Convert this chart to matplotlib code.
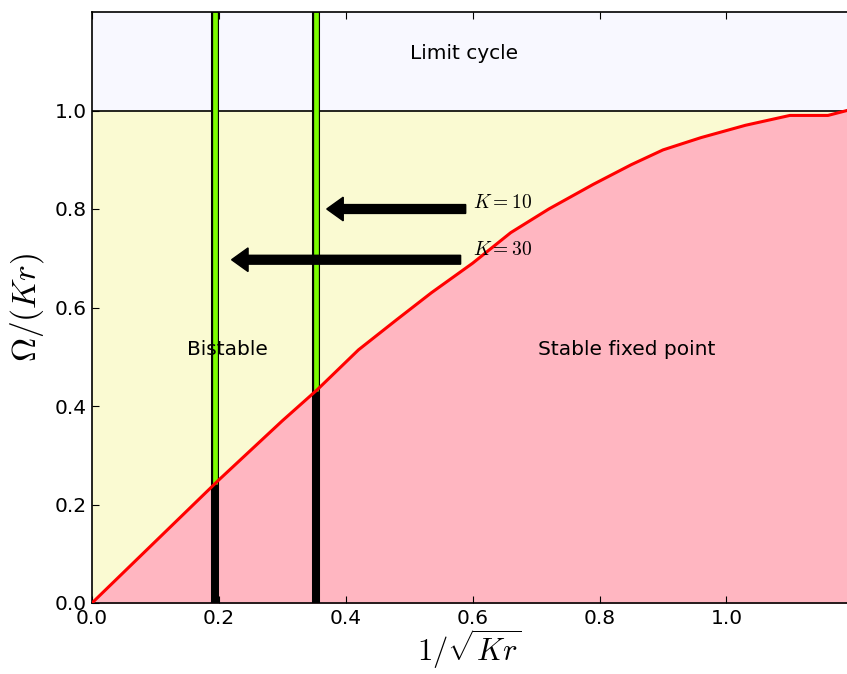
import numpy as np
import matplotlib
matplotlib.use("Agg")
import matplotlib.pyplot as plt

plt.rcParams['mathtext.fontset'] = 'cm'

# Boundary between bistable and stable fixed point regions
boundary_x = [0, 0.04, 0.08, 0.12, 0.16, 0.20, 0.25, 0.30, 0.355, 0.42, 0.48, 0.535,
              0.60, 0.66, 0.72, 0.79, 0.85, 0.90, 0.96, 1.03, 1.10, 1.16, 1.19]
boundary_y = [0, 0.05, 0.10, 0.15, 0.20, 0.25, 0.31, 0.37, 0.433, 0.514, 0.575, 0.63,
              0.69, 0.752, 0.80, 0.85, 0.89, 0.92, 0.945, 0.97, 0.99, 0.99, 1.0]

# Vertical lines for K values
k_values = [10, 30]
k_x = [0.353, 0.194]
k_labels = [r'$K=10$', r'$K=30$']
k_label_y = [0.813, 0.717]
arrow_y = [0.80, 0.697]
arrow_tail_x = [0.589, 0.581]
arrow_head_x = [0.37, 0.22]

limit_y = 1.0
xmax, ymax = 1.19, 1.2

fig = plt.figure(figsize=(8.47, 6.74), dpi=100)
ax = fig.add_axes([92/847, 71/674, 1 - 92/847, (603-12)/674])

bx = np.array(boundary_x)
by = np.array(boundary_y)

ax.fill_between([0, xmax], limit_y, ymax, color='#F8F8FF', zorder=0)
ax.fill_between(bx, by, limit_y, color='#FAFAD2', zorder=0)
ax.fill_between(bx, 0, by, color='#FFB6C1', zorder=0)
ax.axhline(limit_y, color='black', lw=1.2, zorder=1)
ax.plot(bx, by, color='red', lw=2.2, zorder=3)

for xv in k_x:
    yc = np.interp(xv, bx, by)
    ax.plot([xv, xv], [yc, ymax], color='black', lw=5.8, zorder=2, solid_capstyle='butt')
    ax.plot([xv, xv], [yc, ymax], color='#7CFC00', lw=3.4, zorder=2.1, solid_capstyle='butt')
    ax.plot([xv, xv], [0, yc], color='black', lw=5.8, zorder=2, solid_capstyle='butt')

for ya, xt, xh in zip(arrow_y, arrow_tail_x, arrow_head_x):
    ax.arrow(xt, ya, xh - xt, 0, width=0.018, head_width=0.048, head_length=0.026,
             length_includes_head=True, color='black', zorder=4)
for lab, ly in zip(k_labels, k_label_y):
    ax.text(0.60, ly, lab, fontsize=14, va='center', ha='left', zorder=5)

ax.text(0.587, 1.116, 'Limit cycle', fontsize=14.5, ha='center', va='center')
ax.text(0.213, 0.514, 'Bistable', fontsize=14.5, ha='center', va='center')
ax.text(0.843, 0.514, 'Stable fixed point', fontsize=14.5, ha='center', va='center')

ax.set_xlim(0, xmax)
ax.set_ylim(0, ymax)
ax.set_xticks([0, 0.2, 0.4, 0.6, 0.8, 1.0])
ax.set_yticks([0, 0.2, 0.4, 0.6, 0.8, 1.0])
ax.tick_params(direction='in', top=True, right=False, labelsize=14.5, length=5, pad=4)
ax.spines['right'].set_visible(False)
for s in ['left', 'bottom', 'top']:
    ax.spines[s].set_linewidth(1.2)

ax.set_xlabel(r'$1/\sqrt{Kr}$', fontsize=22, labelpad=0)
ax.set_ylabel(r'$\Omega/(Kr)$', fontsize=24, labelpad=6)

fig.savefig('out.png', dpi=100)
